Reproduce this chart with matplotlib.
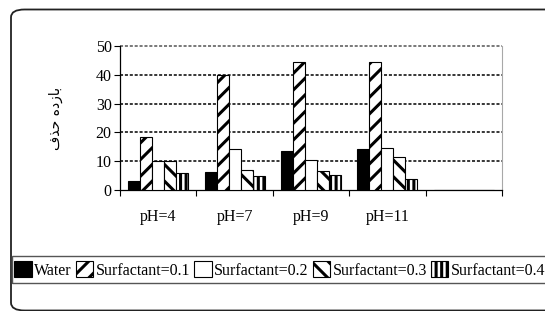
import numpy as np
import matplotlib
matplotlib.use("Agg")
import matplotlib.pyplot as plt
from matplotlib.patches import FancyBboxPatch, Rectangle

# data
groups = ["pH=4", "pH=7", "pH=9", "pH=11", ""]
water = [3.1, 6.3, 13.5, 14.2, 0]
surf_01 = [18.5, 40.1, 44.6, 44.6, 0]
surf_02 = [9.9, 14.2, 10.4, 14.5, 0]
surf_03 = [9.9, 6.8, 6.5, 11.5, 0]
surf_04 = [5.9, 4.9, 5.3, 3.9, 0]
series_names = ["Water", "Surfactant=0.1", "Surfactant=0.2", "Surfactant=0.3", "Surfactant=0.4"]
# "بازده حذف" written in presentation forms, visual order (no shaping in matplotlib)
ylabel_text = "\ufed1\ufeac\ufea3 \ufee9\ufea9\ufeaf\ufe8e\ufe91"

plt.rcParams["font.family"] = ["Liberation Serif", "DejaVu Sans"]
plt.rcParams["hatch.linewidth"] = 2.2

fig = plt.figure(figsize=(5.45, 3.11), dpi=100)
ax = fig.add_axes([120 / 545, 121 / 311, 382 / 545, 144 / 311])

series = [water, surf_01, surf_02, surf_03, surf_04]
fills = ["black", "white", "white", "white", "white"]
hatches = [None, "//", None, "\\\\", "|||"]
x = np.arange(len(groups))
w = 0.157
for i, vals in enumerate(series):
    ax.bar(x + (i - 2) * w, vals, w, color=fills[i], edgecolor="black",
           linewidth=0.8, hatch=hatches[i], label=series_names[i], zorder=3)

ax.set_xlim(-0.5, len(groups) - 0.5)
ax.set_ylim(0, 50)
ax.set_yticks(range(0, 51, 10))
ax.set_xticks(np.arange(-0.5, len(groups), 1.0))
ax.set_xticklabels([])
ax.set_xticks(x, minor=True)
ax.set_xticklabels(groups, minor=True)
ax.tick_params(axis="x", which="minor", length=0, pad=14, labelsize=11.5)
ax.tick_params(axis="x", which="major", direction="out", length=4, width=0.8)
ax.tick_params(axis="y", direction="out", length=4, width=0.8, pad=2, labelsize=11.5)

for yv in [10, 20, 30, 40]:
    ax.axhline(yv, color="black", linestyle=(0, (2, 1.2)), linewidth=1.1, zorder=1)
ax.axhline(50, color="#555555", linestyle=(0, (2, 1.2)), linewidth=1.1, zorder=1, clip_on=False)

ax.spines["top"].set_visible(False)
ax.spines["right"].set_color("#a8a8a8")
ax.spines["left"].set_linewidth(0.9)
ax.spines["bottom"].set_linewidth(0.9)

fig.text(56 / 545, 1 - 118 / 311, ylabel_text, rotation=90, ha="center", va="center",
         fontsize=10, family="DejaVu Sans")

# outer rounded frame, cut off on the right like the original
fig.patches.append(FancyBboxPatch((11 / 545, 0.5 / 311), 1.1, 1 - 9.5 / 311 - 0.5 / 311,
                                  boxstyle="round,pad=0,rounding_size=0.025",
                                  transform=fig.transFigure, facecolor="none",
                                  edgecolor="#222222", linewidth=1.3, clip_on=False))
# legend frame
fig.patches.append(Rectangle((12 / 545, 1 - 283 / 311), 1.0, 27 / 311,
                             transform=fig.transFigure, facecolor="none",
                             edgecolor="#555555", linewidth=1.0))

fig.legend(loc="center left", bbox_to_anchor=(14 / 545, 1 - 270 / 311), ncol=5,
           frameon=False, fontsize=11.5, handlelength=1.1, handleheight=1.1,
           handletextpad=0.15, columnspacing=0.25, borderaxespad=0, borderpad=0)

fig.savefig("out.png", dpi=100)
